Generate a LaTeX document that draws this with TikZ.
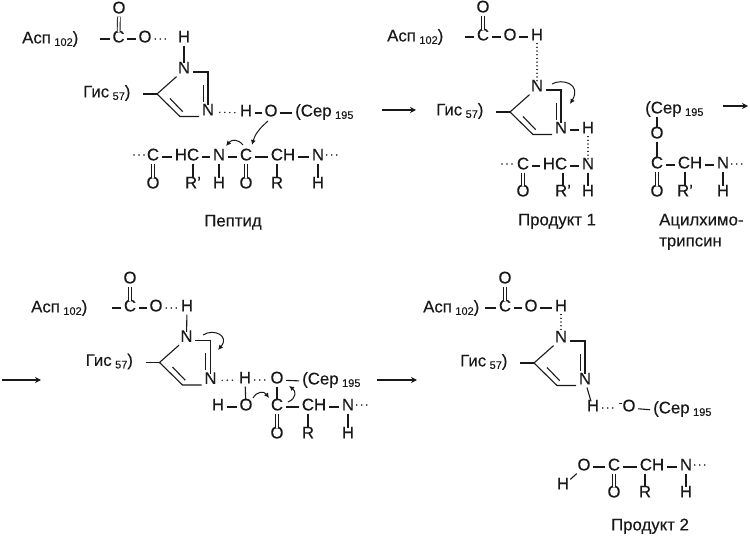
\documentclass[tikz,border=0pt]{standalone}
\usepackage{fontspec}
\setmainfont[FakeBold=0.25]{Liberation Sans}
\usetikzlibrary{arrows.meta}
\definecolor{ink}{gray}{0.1}
\newcommand{\subn}[1]{\hspace{3.5pt}\raisebox{-2.5pt}{\fontsize{11}{12}\selectfont #1}}
\newcommand{\At}[4]{\node[atom] (#1) at (#2,#3) {#4};}
\newcommand{\Lb}[4]{\node[lbl] (#1) at (#2,#3) {#4};}
\tikzset{
  atom/.style={text=ink,font=\fontsize{16.8}{20}\selectfont,inner xsep=2.5pt,inner ysep=3pt,text height=.68em,text depth=0pt,anchor=center},
  lbl/.style={atom,inner sep=0pt,anchor=west},
  captext/.style={atom,inner sep=0pt},
  bond/.style={draw=ink,line width=1.1pt},
  dbl/.style={draw=ink,line width=.9pt,double,double distance=1.9pt},
  hb/.style={draw=ink,line width=1.6pt,line cap=round,dash pattern=on 0.01pt off 5pt,shorten <=3pt},
  hbv/.style={draw=ink,line width=1.5pt,line cap=round,dash pattern=on 0.01pt off 3.7pt},
  react/.style={draw=ink,line width=1.1pt,-{Stealth[length=6pt,width=6pt]}},
  curly/.style={draw=ink,line width=1pt,-{Latex[length=5pt,width=5pt]}}
}
% imidazole ring with its label; #1 name prefix, #2 #3 shift
\newcommand{\imring}[3]{%
\begin{scope}[shift={(#2,#3)}]
\At{#1n}{184}{70}{N}
\At{#1m}{208}{112}{N}
\coordinate (#1t) at (208,72);
\coordinate (#1b) at (180,116.5);
\coordinate (#1l) at (157,94);
\coordinate (#1s) at (143,94);
\coordinate (#1ia) at (203.3,85);
\coordinate (#1ib) at (203.3,102);
\coordinate (#1ic) at (170,98.5);
\coordinate (#1id) at (182.7,111.7);
\Lb{#1g}{83}{94}{Гис\subn{57})}
\draw[bond] (#1n) -- (#1l) -- (#1b) -- (#1m.west |- #1b);
\draw[bond] (#1n.east |- #1t) -- (#1t) -- (#1m);
\draw[bond] (#1ia) -- (#1ib);
\draw[bond] (#1ic) -- (#1id);
\draw[bond] (#1s) -- (#1l);
\end{scope}}
\begin{document}
\begin{tikzpicture}[x=1pt,y=-1pt]
\useasboundingbox (0,0) rectangle (750,537);
% ---------- panel 1
\Lb{a1}{22}{40}{Асп\subn{102})}
\At{a1o}{119}{10}{O}\At{a1c}{118.5}{39}{C}\At{a1p}{145}{39}{O}\At{a1h}{184}{39}{H}
\coordinate (a1d) at (100,39);
\draw[dbl] (a1o) -- (a1c);
\draw[bond] (a1d) -- (a1c);
\draw[bond] (a1c) -- (a1p);
\draw[hb,shorten <=1pt,shorten >=5pt] (a1p.east) -- (a1h.west);
\imring{r1}{0}{0}
\draw[bond] (a1h) -- (r1n);
\At{s1h}{246}{113}{H}\At{s1o}{271}{113}{O}
\Lb{s1}{295}{113}{(Сер\subn{195}}
\draw[hb] (r1m) -- (s1h);
\draw[bond] (s1h) -- (s1o);
\draw[bond,shorten >=3pt] (s1o) -- (s1.west);
\At{p1a}{153}{157}{C}\At{p1b}{187}{157}{HC}\At{p1c}{219}{157}{N}\At{p1d}{246}{157}{C}\At{p1e}{283}{157}{CH}\At{p1f}{318}{157}{N}
\At{p1ao}{153}{185}{O}\At{p1br}{193}{185}{R'}\At{p1ch}{219}{185}{H}\At{p1do}{246}{185}{O}\At{p1er}{277}{185}{R}\At{p1fh}{318}{185}{H}
\coordinate (p1l) at (134,155);\coordinate (p1r) at (340,155);
\draw[hb,shorten <=0pt] (p1l) -- (p1a.west |- p1l);
\draw[hb,shorten <=0pt] (p1f.east |- p1r) -- (p1r);
\draw[bond] (p1a) -- (p1b);\draw[bond] (p1b) -- (p1c);\draw[bond] (p1c) -- (p1d);\draw[bond] (p1d) -- (p1e);\draw[bond] (p1e) -- (p1f);
\draw[dbl] (p1a) -- (p1ao);\draw[dbl] (p1d) -- (p1do);
\draw[bond] (p1br |- p1b.south) -- (p1br);\draw[bond] (p1c) -- (p1ch);\draw[bond] (p1er |- p1e.south) -- (p1er);\draw[bond] (p1f) -- (p1fh);
\coordinate (c1a) at (268,121);\coordinate (c1b) at (252,145);
\draw[curly] (c1a) .. controls (260,128) and (255,134) .. (c1b);
\coordinate (c1c) at (243,145);\coordinate (c1d) at (226,146);
\draw[curly] (c1c) .. controls (238,139) and (232,139) .. (c1d);
\node[captext] (t1) at (233,223) {Пептид};
\coordinate (ar1a) at (382,110);\coordinate (ar1b) at (416,110);
\draw[react] (ar1a) -- (ar1b);
% ---------- panel 2
\Lb{a2}{387}{38}{Асп\subn{102})}
\At{a2o}{483}{9}{O}\At{a2c}{483}{37}{C}\At{a2p}{510}{37}{O}\At{a2h}{537}{37}{H}
\coordinate (a2d) at (465,37);
\draw[dbl] (a2o) -- (a2c);
\draw[bond] (a2d) -- (a2c);\draw[bond] (a2c) -- (a2p);\draw[bond] (a2p) -- (a2h);
\imring{r2}{353}{18}
\draw[hbv] (a2h) -- (r2n);
\At{h2}{588}{130}{H}
\draw[bond] (r2m) -- (h2);
\At{p2a}{523}{166}{C}\At{p2b}{555}{166}{HC}\At{p2c}{588}{166}{N}
\At{p2ao}{523}{193}{O}\At{p2br}{563}{193}{R'}\At{p2ch}{588}{193}{H}
\coordinate (p2l) at (502,164);
\draw[hb,shorten <=0pt] (p2l) -- (p2a.west |- p2l);
\draw[hbv] (h2) -- (p2c);
\draw[bond] (p2a) -- (p2b);\draw[bond] (p2b) -- (p2c);
\draw[dbl] (p2a) -- (p2ao);
\draw[bond] (p2br |- p2b.south) -- (p2br);\draw[bond] (p2c) -- (p2ch);
\coordinate (c2a) at (552,84);\coordinate (c2b) at (570,104);
\draw[curly] (c2a) .. controls (562,78) and (582,84) .. (c2b);
\node[captext] (t2) at (557,222) {Продукт 1};
% ---------- acyl-chymotrypsin
\Lb{s2}{645}{110}{(Сер\subn{195}}
\At{k2o}{657}{135}{O}\At{k2c}{657}{165}{C}\At{k2d}{690}{165}{CH}\At{k2e}{723}{165}{N}
\At{k2co}{657}{193}{O}\At{k2r}{685}{193}{R'}\At{k2h}{723}{193}{H}
\coordinate (k2s) at (657,117);\coordinate (k2x) at (742,164);
\draw[bond] (k2s) -- (k2o);\draw[bond] (k2o) -- (k2c);
\draw[bond] (k2c) -- (k2d);\draw[bond] (k2d) -- (k2e);
\draw[hb,shorten <=0pt] (k2e.east |- k2x) -- (k2x);
\draw[dbl] (k2c) -- (k2co);
\draw[bond] (k2r |- k2d.south) -- (k2r);\draw[bond] (k2e) -- (k2h);
\Lb{t3a}{659}{222}{Ацилхимо-}
\Lb{t3b}{659}{243}{трипсин}
\coordinate (ar2a) at (723,106);\coordinate (ar2b) at (748,106);
\draw[react] (ar2a) -- (ar2b);
% ---------- panel 3
\coordinate (ar3a) at (2,380);\coordinate (ar3b) at (41,380);
\draw[react] (ar3a) -- (ar3b);
\Lb{a3}{31}{309}{Асп\subn{102})}
\At{a3o}{130}{280}{O}\At{a3c}{130}{308}{C}\At{a3p}{156}{308}{O}\At{a3h}{187}{308}{H}
\coordinate (a3d) at (112,308);
\draw[dbl] (a3o) -- (a3c);
\draw[bond] (a3d) -- (a3c);\draw[bond] (a3c) -- (a3p);
\draw[hb,shorten <=1pt] (a3p.east) -- (a3h.west);
\imring{r3}{2.5}{268.5}
\draw[bond] (a3h) -- (r3n);
\At{s3h}{245}{380}{H}\At{s3o}{277}{380}{O}
\Lb{s3}{302}{381}{(Сер\subn{195}}
\draw[hb] (r3m) -- (s3h);
\draw[hb,shorten <=1pt] (s3h) -- (s3o);
\draw[bond,shorten >=3pt] (s3o) -- (s3.west);
\At{w3h}{218}{407}{H}\At{w3o}{246}{407}{O}\At{q3c}{277}{407}{C}\At{q3d}{314}{407}{CH}\At{q3e}{348}{407}{N}
\At{q3o}{277}{435}{O}\At{q3r}{308}{435}{R}\At{q3h}{348}{435}{H}
\coordinate (q3x) at (369,405);
\draw[bond] (w3h) -- (w3o);\draw[bond] (s3h) -- (w3o);\draw[bond] (s3o) -- (q3c);
\draw[bond] (q3c) -- (q3d);\draw[bond] (q3d) -- (q3e);
\draw[hb,shorten <=0pt] (q3e.east |- q3x) -- (q3x);
\draw[dbl] (q3c) -- (q3o);
\draw[bond] (q3r |- q3d.south) -- (q3r);\draw[bond] (q3e) -- (q3h);
\coordinate (c3a) at (203,335);\coordinate (c3b) at (218,350);
\draw[curly] (c3a) .. controls (214,328) and (230,336) .. (c3b);
\coordinate (c3c) at (253,398);\coordinate (c3d) at (269,398);
\draw[curly] (c3c) .. controls (257,391) and (264,391) .. (c3d);
\coordinate (c3e) at (288,402);\coordinate (c3f) at (289,386);
\draw[curly] (c3e) .. controls (297,398) and (296,391) .. (c3f);
\coordinate (ar4a) at (377,380);\coordinate (ar4b) at (417,380);
\draw[react] (ar4a) -- (ar4b);
% ---------- panel 4
\Lb{a4}{423}{309}{Асп\subn{102})}
\At{a4o}{505}{280}{O}\At{a4c}{505}{308}{C}\At{a4p}{531}{308}{O}\At{a4h}{561}{308}{H}
\coordinate (a4d) at (485,308);
\draw[dbl] (a4o) -- (a4c);
\draw[bond] (a4d) -- (a4c);\draw[bond] (a4c) -- (a4p);\draw[bond] (a4p) -- (a4h);
\imring{r4}{377}{269}
\draw[hbv] (a4h) -- (r4n);
\At{h4}{593}{408}{H}
\At{o4}{629}{408}{\llap{\raisebox{5pt}{\fontsize{11}{12}\selectfont -}}O}
\Lb{s4}{653}{410}{(Сер\subn{195}}
\draw[bond] (r4m) -- (h4);
\draw[hb,shorten <=1pt,shorten >=4pt] (h4) -- (o4);
\draw[bond,shorten >=3pt] (o4) -- (s4.west);
\At{w4h}{563}{486}{H}\At{w4o}{584}{467}{O}\At{w4c}{614}{467}{C}\At{w4d}{652}{467}{CH}\At{w4e}{686}{467}{N}
\At{w4co}{614}{494}{O}\At{w4r}{645}{494}{R}\At{w4hh}{686}{494}{H}
\coordinate (w4x) at (707,465);
\draw[bond] (w4h) -- (w4o);\draw[bond] (w4o) -- (w4c);\draw[bond] (w4c) -- (w4d);\draw[bond] (w4d) -- (w4e);
\draw[hb,shorten <=0pt] (w4e.east |- w4x) -- (w4x);
\draw[dbl] (w4c) -- (w4co);
\draw[bond] (w4r |- w4d.south) -- (w4r);\draw[bond] (w4e) -- (w4hh);
\node[captext] (t4) at (650,527) {Продукт 2};
\end{tikzpicture}
\end{document}
